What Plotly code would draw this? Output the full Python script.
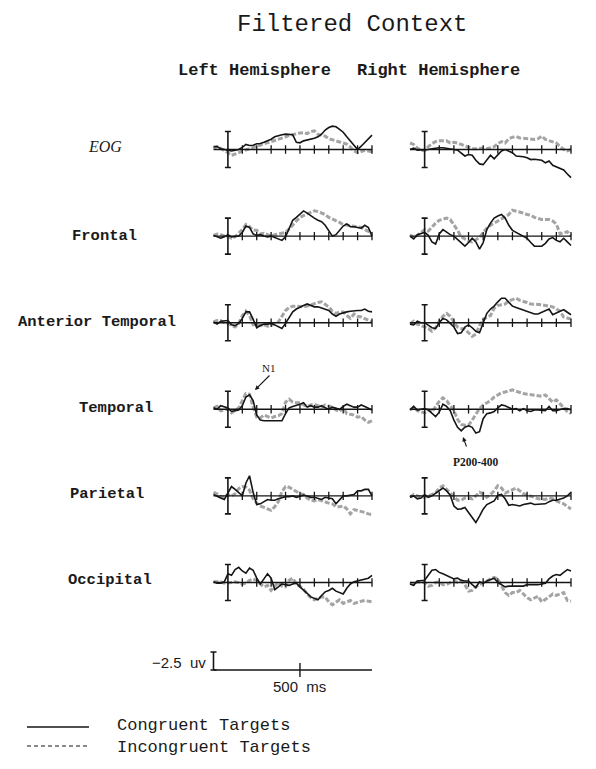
import plotly.graph_objects as go

# ---------------- data (microvolts, negative plotted upward) ----------------
times = list(range(-100, 1001, 25))          # ms
tick_times = list(range(100, 1001, 100))     # ms ticks on each baseline
cal_uv = 2.5                                  # calibration bar (uV)
scale_tick_ms = [500]

regions = ["EOG", "Frontal", "Anterior Temporal", "Temporal", "Parietal", "Occipital"]
hemispheres = ["Left Hemisphere", "Right Hemisphere"]
series_names = ["Congruent Targets", "Incongruent Targets"]

eog_l_cong = [-0.4, -0.4, -0.1, 0.0, 0.1, 0.2, 0.1, 0.0, -0.3, -0.7, -0.55, -0.6, -0.8, -0.83, -1.0,
              -1.2, -1.43, -1.76, -1.94, -2.04, -2.13, -2.13, -2.04, -1.0, -0.93, -1.2, -1.3, -1.43, -1.57, -1.76,
              -2.13, -2.7, -3.05, -3.24, -3.15, -2.8, -2.4, -1.76, -1.2, -0.7, 0.0, -0.46, -0.93, -1.4, -2.0]
eog_l_incong = [-0.15, -0.4, -0.15, 0.1, 0.45, 0.8, 0.65, 0.45, 0.2, 0.1, -0.1, -0.3, -0.45, -0.65, -0.85,
                -1.0, -1.05, -1.2, -1.4, -1.5, -1.75, -1.95, -2.1, -2.2, -2.3, -2.35, -2.2, -2.5, -2.6, -2.1,
                -2.0, -1.85, -1.5, -1.3, -1.2, -1.05, -0.9, -0.75, -0.35, 0.2, 0.45, 0.3, 0.1, 0.2, 0.3]
eog_r_cong = [0.0, -0.2, 0.1, 0.1, 0.1, 0.0, -0.1, -0.2, -0.25, -0.25, -0.2, -0.1, 0.0, 0.1, 0.45,
              0.9, 0.7, 0.8, 1.5, 2.0, 2.1, 1.4, 0.8, 1.3, 0.7, 0.2, 0.0, 0.2, 0.45, 0.9,
              0.9, 1.0, 1.15, 1.4, 1.35, 1.4, 1.5, 1.85, 1.6, 2.2, 2.4, 2.6, 2.85, 3.4, 3.9]
eog_r_incong = [-0.9, -0.7, -0.2, 0.1, 0.2, -0.4, -0.8, -1.1, -1.2, -1.25, -1.2, -0.9, -1.0, -0.9, -0.7,
                -0.5, -0.3, -0.1, -0.1, -0.2, -0.2, -0.1, -0.2, -0.4, -0.8, -1.1, -0.9, -1.5, -1.7, -1.8,
                -1.6, -1.55, -1.5, -1.45, -1.4, -1.5, -1.85, -1.4, -1.2, -1.0, -0.9, -0.4, 0.0, 0.2, 0.0]

frontal_l_cong = [-0.1, 0.1, 0.3, 0.1, -0.2, 0.1, 0.0, 0.0, -0.5, -1.4, -1.2, -0.3, -0.1, -0.2, 0.0,
                  0.1, 0.0, 0.2, 0.3, 0.6, 0.1, -1.0, -2.2, -2.6, -3.0, -3.5, -3.2, -2.8, -2.5, -2.2,
                  -2.0, -1.5, -0.8, 0.0, -0.2, -0.8, -1.4, -1.7, -1.3, -1.3, -1.2, -1.1, -1.5, -1.2, 0.0]
frontal_l_incong = [-0.1, -0.3, -0.2, 0.0, 0.1, 0.3, 0.1, -0.4, -0.9, -1.6, -1.3, -0.8, -0.8, -0.3, -0.4,
                    -0.2, 0.0, -0.2, -0.3, -0.4, -0.5, -1.0, -1.6, -2.1, -2.6, -2.9, -3.1, -3.3, -3.5, -3.4,
                    -3.2, -3.0, -2.6, -2.4, -2.1, -1.9, -1.6, -1.5, -1.5, -1.4, -1.3, -1.2, -0.9, -0.6, -0.4]
frontal_r_cong = [0.0, 0.4, -0.2, -0.3, -0.5, -0.1, 0.8, 1.1, -0.3, -0.9, -0.5, -0.2, 0.0, 0.5, 0.9,
                  1.4, 0.9, 0.3, 0.8, 1.8, 0.9, -0.9, -1.8, -2.5, -2.8, -3.0, -2.5, -1.5, -0.8, -0.5,
                  -0.2, 0.1, 0.3, 0.9, 1.4, 1.4, 1.4, 1.0, 0.4, 0.2, 0.6, 0.8, 0.3, 0.8, 1.3]
frontal_r_incong = [-0.2, 0.2, -0.1, -0.5, -0.9, -0.7, -1.3, -1.8, -2.2, -2.4, -2.5, -2.3, -1.6, -0.8, 0.1,
                    0.4, 0.7, 0.8, 0.5, 0.2, -0.5, -1.1, -1.5, -1.8, -2.1, -2.3, -2.6, -3.0, -3.6, -3.5,
                    -3.4, -3.2, -3.0, -2.9, -2.6, -2.4, -2.3, -2.3, -2.3, -2.1, -1.7, -0.3, -0.5, -0.6, 0.0]

anttemp_l_cong = [-0.1, 0.2, -0.2, -0.3, -0.3, 0.3, 0.4, 0.1, -0.6, -1.5, -1.5, -0.5, 0.7, 0.4, 0.2,
                  0.2, 0.1, 0.3, 0.5, 0.8, 0.1, -0.8, -1.5, -1.9, -2.2, -2.4, -2.6, -2.4, -2.2, -2.2,
                  -2.0, -1.9, -1.7, -1.2, -0.9, -1.2, -1.4, -1.5, -1.6, -1.7, -1.7, -1.7, -1.9, -1.6, -1.5]
anttemp_l_incong = [-0.1, -0.3, -0.3, 0.0, 0.1, 0.4, 0.6, 0.1, -1.0, -1.6, -1.0, 0.3, 0.2, 0.4, 0.3,
                    0.5, 0.4, 0.1, -0.1, -0.9, -1.7, -2.1, -2.3, -2.3, -2.2, -2.2, -2.3, -2.5, -2.6, -2.8,
                    -2.9, -2.6, -2.2, -1.6, -1.3, -1.5, -1.5, -1.0, -0.6, -1.2, -0.9, -0.8, -0.6, -0.3, -0.1]
anttemp_r_cong = [0.2, 0.3, -0.2, 0.0, 0.0, 0.3, 0.7, 0.8, 0.0, -0.6, -0.4, 0.1, 0.6, 1.5, 1.4,
                  0.6, 0.3, 0.7, 1.2, 1.4, 0.0, -1.3, -1.9, -2.3, -2.9, -3.4, -3.4, -2.8, -2.3, -2.1,
                  -1.9, -1.7, -1.6, -1.3, -1.2, -1.2, -1.4, -1.7, -1.9, -1.1, -1.4, -1.6, -1.8, -1.5, -1.1]
anttemp_r_incong = [0.2, -0.2, 0.2, 0.4, 0.5, 0.8, 1.2, 0.7, -0.2, -0.9, -1.3, -0.9, -0.1, 0.6, 0.8,
                    0.9, 1.4, 1.9, 1.6, 0.4, -0.5, -0.7, -1.0, -2.0, -2.4, -2.5, -2.6, -3.0, -3.2, -3.4,
                    -3.1, -3.0, -2.8, -2.6, -2.6, -2.6, -2.5, -2.4, -2.3, -2.2, -1.9, -1.6, -0.8, -0.6, -0.5]

temporal_l_cong = [-0.2, 0.0, -0.5, -0.3, -0.2, 0.3, 0.2, 0.1, -0.5, -1.7, -2.0, -1.2, 0.8, 1.5, 1.6,
                   1.6, 1.6, 1.7, 1.7, 1.6, 0.6, -0.2, -0.4, -0.5, -0.7, -0.9, -0.3, -0.5, -0.3, -0.3,
                   -0.5, -0.2, 0.0, -0.3, -0.2, 0.0, -0.4, -0.7, -0.5, -0.3, -0.3, -0.6, -0.4, -0.2, 0.1]
temporal_l_incong = [-0.2, -0.4, 0.2, 0.1, 0.0, 0.5, 0.2, -0.2, -1.2, -2.2, -2.1, -0.3, 1.1, 1.2, 0.8,
                     1.0, 1.2, 1.0, 0.9, 0.6, -1.0, -1.4, -1.0, -0.9, -0.9, -0.6, -0.4, -0.6, -0.7, -0.5,
                     -0.3, -0.6, -0.5, -0.3, 0.1, 0.3, -0.2, 0.6, 0.7, 0.8, 1.1, 1.0, 1.5, 1.8, 1.6]
temporal_r_cong = [0.1, -0.4, 0.1, 0.0, -0.1, 0.1, 0.5, 1.0, 0.4, -0.7, -0.4, 0.2, 1.5, 2.5, 3.0,
                   2.5, 2.3, 2.5, 3.3, 3.1, 1.3, 0.6, 0.5, 0.3, -0.2, -0.6, -0.5, -0.2, 0.0, -0.1,
                   0.2, -0.1, 0.2, 0.3, 0.1, 0.1, 0.1, 0.2, -0.4, 0.2, 0.2, 0.0, -0.1, -0.1, 0.1]
temporal_r_incong = [0.1, -0.3, 0.2, 0.4, 0.5, 0.1, 0.4, -0.4, -1.1, -1.6, -1.2, -0.5, 0.2, 1.4, 2.1,
                     2.2, 2.2, 1.5, 0.6, -0.1, -0.6, -0.9, -1.2, -1.7, -2.0, -2.3, -2.4, -2.5, -2.7, -2.5,
                     -2.3, -2.2, -2.1, -2.0, -1.9, -1.8, -1.8, -2.0, -1.5, -1.0, -1.3, -0.8, -0.3, 0.3, 0.6]

parietal_l_cong = [-0.2, 0.1, 0.3, 0.5, -0.5, -1.3, -0.9, -0.4, 0.0, -1.8, -2.8, -0.5, 1.2, 1.1, 0.8,
                   0.5, 0.6, 0.6, 0.4, 0.2, 0.1, 0.1, 0.0, 0.2, 0.1, -0.1, 0.0, 0.2, 0.2, 0.3,
                   0.5, 0.2, 0.3, 0.4, 1.1, 0.5, 0.0, 0.0, -0.1, -0.2, -0.7, -0.7, -0.9, -0.9, 0.0]
parietal_l_incong = [-0.5, -0.3, 0.1, 0.2, -0.2, 0.0, -0.3, -1.0, -1.3, -1.2, -0.8, 0.4, 1.0, 1.4, 1.6,
                     1.8, 2.0, 1.5, 0.8, -0.6, -1.3, -1.2, -0.9, -0.6, -0.3, -0.2, 0.3, 0.6, 0.7, 0.5,
                     0.7, 0.9, 1.0, 1.1, 1.5, 1.5, 1.4, 1.8, 2.5, 1.9, 2.0, 2.2, 2.3, 2.5, 2.6]
parietal_r_cong = [0.2, 0.0, 0.4, 0.3, -0.2, 0.2, 0.0, -0.4, -0.7, -1.1, -0.7, -0.1, 1.4, 1.85, 1.8,
                   1.6, 2.3, 3.0, 3.7, 2.8, 1.85, 1.2, 1.0, 0.7, -0.1, -0.2, 0.4, 1.3, 1.2, 1.3,
                   1.4, 1.2, 1.1, 1.0, 1.2, 1.2, 1.2, 1.1, 0.8, 0.6, 0.6, 0.5, 0.3, 0.0, -0.5]
parietal_r_incong = [0.2, -0.2, 0.0, 0.2, 0.2, 0.0, -0.2, -0.4, -1.1, -1.4, -0.9, -0.4, 0.2, 0.6, 0.6,
                     0.3, 0.3, 0.4, 0.0, -0.5, -0.3, 0.2, -0.2, -0.7, -1.4, -1.1, -0.4, -0.6, -0.8, -1.1,
                     -0.7, -0.3, -0.1, 0.0, 0.2, 0.4, 0.5, 0.5, 0.3, 0.4, 0.7, 0.9, 1.1, 1.5, 1.8]

occipital_l_cong = [-0.1, 0.1, 0.1, -0.1, -1.2, -1.0, -1.8, -2.1, -1.6, -1.3, -2.0, -1.7, -0.6, 0.2, -0.5,
                    -1.2, -0.6, 1.0, 0.6, 0.2, 0.3, 0.4, 0.2, 0.1, 0.6, 1.0, 1.5, 2.0, 2.2, 2.4,
                    1.8, 1.3, 1.1, 0.8, 1.2, 1.4, 1.6, 0.8, 0.2, -0.1, -0.2, -0.4, -0.5, -0.6, -1.0]
occipital_l_incong = [-0.1, -0.1, -0.1, 0.1, 0.1, 0.0, -0.1, 0.1, 0.2, 0.1, -0.3, -0.5, -0.3, 0.2, 0.6,
                      0.4, 1.1, 0.5, 0.0, 0.5, 0.6, -0.3, -0.6, 0.2, 0.6, 0.9, 1.6, 2.1, 2.4, 2.2,
                      2.0, 2.0, 2.7, 3.1, 2.8, 2.4, 2.9, 2.7, 2.5, 2.9, 2.7, 2.6, 2.5, 2.6, 2.7]
occipital_r_cong = [0.2, 0.4, -0.2, -0.2, -0.3, -1.0, -1.7, -1.8, -1.4, -1.2, -1.0, -0.7, -0.5, -0.6, -0.3,
                    -0.2, -0.2, 0.3, 0.7, -0.1, 0.1, -0.2, -0.4, -0.6, 0.0, 0.3, 0.6, 0.5, 0.5, 0.6,
                    0.6, 0.5, 0.3, 0.3, 0.4, 0.3, 0.2, 0.1, -0.5, -0.9, -1.1, -1.0, -1.4, -1.8, -1.6]
occipital_r_incong = [0.0, 0.3, -0.1, 0.0, 0.0, 0.5, 0.4, 0.0, -0.1, 0.3, 0.3, 0.0, -0.2, 0.0, -0.2,
                      0.3, 1.2, 1.1, 0.6, 0.3, 0.1, -0.2, -0.5, -0.7, -0.5, 0.5, 1.4, 1.8, 1.4, 1.4,
                      1.1, 1.6, 2.1, 2.4, 2.1, 1.9, 2.7, 2.4, 2.0, 1.6, 1.8, 1.6, 1.4, 2.5, 2.6]

panel_data = [
    [(eog_l_cong, eog_l_incong), (eog_r_cong, eog_r_incong)],
    [(frontal_l_cong, frontal_l_incong), (frontal_r_cong, frontal_r_incong)],
    [(anttemp_l_cong, anttemp_l_incong), (anttemp_r_cong, anttemp_r_incong)],
    [(temporal_l_cong, temporal_l_incong), (temporal_r_cong, temporal_r_incong)],
    [(parietal_l_cong, parietal_l_incong), (parietal_r_cong, parietal_r_incong)],
    [(occipital_l_cong, occipital_l_incong), (occipital_r_cong, occipital_r_incong)],
]
for row in panel_data:
    for pair in row:
        for s in pair:
            assert len(s) == len(times), len(s)

# ---------------- layout geometry (pixels) ----------------
W, H = 596, 769
BLACK = "#151515"
GREY = "#a4a4a4"
MONO = "Liberation Mono, Courier New, monospace"
SERIF = "Liberation Serif, Times New Roman, serif"
SANS = "Liberation Sans, Arial, sans-serif"

ROW_BASE = [149.5 + 86.6 * i for i in range(6)]
SCALE_BASE = 670.0
COL_PX = [(213.5, 372.0), (410.0, 571.0)]   # pixel x of first / last time
X_RANGE = [-150, 1050]
Y_HALF = 5.5
PX_PER_UV = 7.2
T0, T1 = times[0], times[-1]


def xdomain(col):
    a, b = COL_PX[col]
    s = (b - a) / (T1 - T0)
    return [(a + (X_RANGE[0] - T0) * s) / W, (a + (X_RANGE[1] - T0) * s) / W]


def ydomain(base):
    return [1 - (base + Y_HALF * PX_PER_UV) / H, 1 - (base - Y_HALF * PX_PER_UV) / H]


fig = go.Figure()
layout_axes = {}
k = 0


def new_axes(col, base):
    global k
    k += 1
    xa = "xaxis" if k == 1 else f"xaxis{k}"
    ya = "yaxis" if k == 1 else f"yaxis{k}"
    xr = "x" if k == 1 else f"x{k}"
    yr = "y" if k == 1 else f"y{k}"
    layout_axes[xa] = dict(domain=xdomain(col), range=X_RANGE, visible=False, anchor=yr, fixedrange=True)
    layout_axes[ya] = dict(domain=ydomain(base), range=[Y_HALF, -Y_HALF], visible=False, anchor=xr,
                           fixedrange=True)
    return xr, yr


common = dict(hoverinfo="skip", showlegend=False)

for r, row in enumerate(panel_data):
    for c, (cong, incong) in enumerate(row):
        xr, yr = new_axes(c, ROW_BASE[r])
        fig.add_trace(go.Scatter(x=times, y=incong, mode="lines", name=series_names[1],
                                 line=dict(color=GREY, width=3, dash="5px,2px"), xaxis=xr, yaxis=yr, **common))
        fig.add_trace(go.Scatter(x=[T0, T1], y=[0, 0], mode="lines",
                                 line=dict(color=BLACK, width=1.4), xaxis=xr, yaxis=yr, **common))
        fig.add_trace(go.Scatter(x=tick_times, y=[0] * len(tick_times), mode="markers",
                                 marker=dict(symbol="line-ns", size=6, line=dict(width=1.3, color=BLACK)),
                                 xaxis=xr, yaxis=yr, **common))
        fig.add_trace(go.Scatter(x=[0], y=[0], mode="markers", marker=dict(size=2, color=BLACK),
                                 error_y=dict(type="constant", value=cal_uv, width=3, thickness=1.6,
                                              color=BLACK),
                                 xaxis=xr, yaxis=yr, **common))
        fig.add_trace(go.Scatter(x=times, y=cong, mode="lines", name=series_names[0],
                                 line=dict(color=BLACK, width=1.6), xaxis=xr, yaxis=yr, **common))

# scale bar panel
xr, yr = new_axes(0, SCALE_BASE)
fig.add_trace(go.Scatter(x=[T0, T1], y=[0, 0], mode="lines", line=dict(color=BLACK, width=1.4),
                         xaxis=xr, yaxis=yr, **common))
fig.add_trace(go.Scatter(x=scale_tick_ms, y=[0], mode="markers",
                         marker=dict(symbol="line-ns", size=10, line=dict(width=1.4, color=BLACK)),
                         xaxis=xr, yaxis=yr, **common))
fig.add_trace(go.Scatter(x=[T0], y=[-cal_uv / 2], mode="markers", marker=dict(size=1, color=BLACK),
                         error_y=dict(type="constant", value=cal_uv / 2, width=3, thickness=1.6, color=BLACK),
                         xaxis=xr, yaxis=yr, **common))

# ---------------- text ----------------
def px_x(p):
    return p / W


def px_y(p):
    return 1 - p / H


ann = []


def text(s, x, y, size, family=MONO, xanchor="center", color="#1a1a1a", weight="normal"):
    ann.append(dict(text=s, x=px_x(x), y=px_y(y), xref="paper", yref="paper", showarrow=False,
                    xanchor=xanchor, yanchor="middle",
                    font=dict(family=family, size=size, color=color, weight=weight)))


text("Filtered Context", 352, 24, 24)
text(hemispheres[0], 254, 70, 17, weight="bold")
text(hemispheres[1], 438.5, 70, 17, weight="bold")

label_pos = [(105, 146), (104, 236), (97, 322), (116, 408), (106.5, 494), (110, 580)]
for i, name in enumerate(regions):
    x, y = label_pos[i]
    if name == "EOG":
        text("<i>" + name + "</i>", x, y, 16, family=SERIF)
    else:
        text(name, x, y, 15.5, weight="bold")

text("\u22122.5  uv", 208, 662, 15, family=SANS, xanchor="right")
text("500  ms", 299, 686, 15, family=SANS)

text(series_names[0], 115, 725.5, 17, xanchor="left")
text(series_names[1], 115, 747.5, 17, xanchor="left")

# component labels with arrows
text("N1", 268, 368, 11, family=SERIF)
text("P200-400", 476, 462, 11.5, family=SERIF, weight="bold")
for (hx, hy, tx, ty) in [(255, 390, 271, 374), (463, 437, 467, 448)]:
    ann.append(dict(text="", x=px_x(hx), y=px_y(hy), xref="paper", yref="paper",
                    ax=tx - hx, ay=ty - hy, axref="pixel", ayref="pixel", showarrow=True,
                    arrowhead=2, arrowsize=0.8, arrowwidth=1.1, arrowcolor=BLACK, standoff=0))

# legend keys
shapes = [
    dict(type="line", xref="paper", yref="paper", x0=px_x(27), x1=px_x(89), y0=px_y(727), y1=px_y(727),
         line=dict(color=BLACK, width=1.6)),
    dict(type="line", xref="paper", yref="paper", x0=px_x(27), x1=px_x(89), y0=px_y(746), y1=px_y(746),
         line=dict(color=BLACK, width=1, dash="4px,3px")),
]

fig.update_layout(width=W, height=H, margin=dict(l=0, r=0, t=0, b=0), paper_bgcolor="white",
                  plot_bgcolor="rgba(0,0,0,0)", annotations=ann, shapes=shapes, showlegend=False,
                  **layout_axes)

fig.write_html("out.html", config={"displayModeBar": False},
               post_script="document.body.style.margin='0';document.body.style.padding='0';"
                           "document.body.style.overflow='hidden';")
